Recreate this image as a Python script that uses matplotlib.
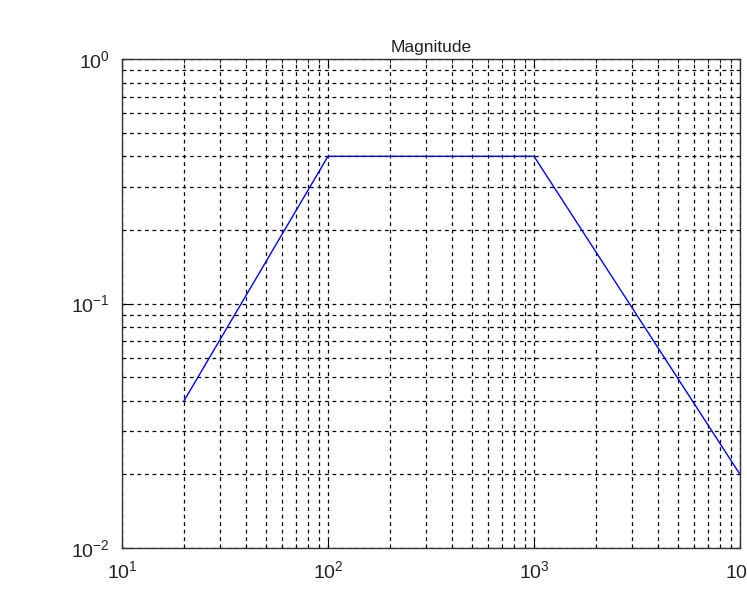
import matplotlib
matplotlib.use("Agg")
import matplotlib.pyplot as plt
from matplotlib.ticker import LogLocator, NullFormatter

freq = [20, 100, 1000, 10000]
magnitude = [0.04, 0.4, 0.4, 0.02]

plt.rcParams['font.family'] = ['Liberation Sans', 'DejaVu Sans']
plt.rcParams['mathtext.default'] = 'regular'
plt.rcParams['axes.unicode_minus'] = False

fig = plt.figure(figsize=(7.47, 6.11), dpi=100)
ax = fig.add_axes([122/747, 63/611, 618/747, 489/611])
ax.loglog(freq, magnitude, color='#0000ff', linewidth=1.0)
ax.set_xlim(10, 10000)
ax.set_ylim(0.01, 1)
ax.set_title('Magnitude', fontsize=12.5, pad=5, color='#222222')

ax.xaxis.set_major_locator(LogLocator(base=10, numticks=10))
ax.yaxis.set_major_locator(LogLocator(base=10, numticks=10))
ax.xaxis.set_minor_locator(LogLocator(base=10, subs=range(2, 10), numticks=100))
ax.yaxis.set_minor_locator(LogLocator(base=10, subs=range(2, 10), numticks=100))
ax.xaxis.set_minor_formatter(NullFormatter())
ax.yaxis.set_minor_formatter(NullFormatter())

ax.grid(True, which='both', color='black', linestyle=(0, (3, 3)), linewidth=0.9)
ax.tick_params(which='both', direction='in', top=True, right=True, color='black')
ax.tick_params(which='major', length=6, labelsize=14, labelcolor='#222222')
ax.tick_params(which='minor', length=3)
ax.tick_params(axis='x', pad=9)
ax.tick_params(axis='y', pad=9)
for s in ax.spines.values():
    s.set_color('#333333')
    s.set_linewidth(1.0)

fig.savefig('out.png', dpi=100)
